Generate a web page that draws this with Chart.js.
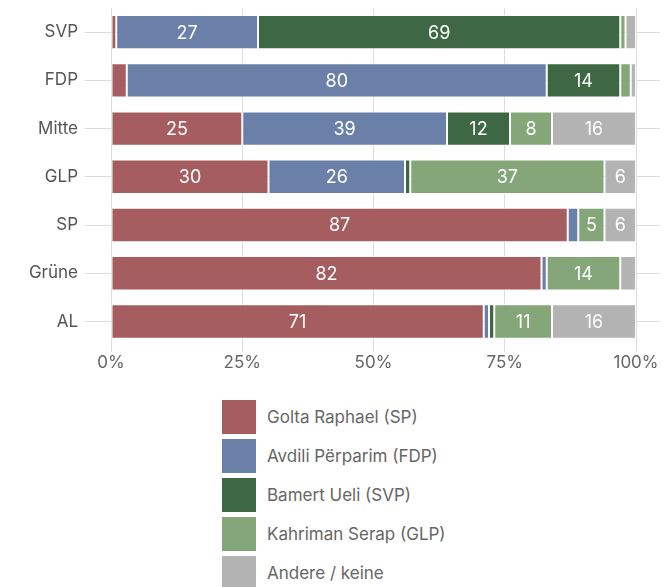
<!DOCTYPE html>
<html>
<head>
<meta charset="utf-8">
<script src="https://cdn.jsdelivr.net/npm/chart.js@4/dist/chart.umd.min.js"></script>
<style>
  body { margin: 0; background: #fff; font-family: Inter, "Noto Sans", sans-serif; }
  #wrap { position: relative; width: 665px; height: 374px; }
  #legend { position: absolute; left: 222px; top: 397px; }
  .item { display: flex; align-items: center; height: 39px; }
  .box { width: 34px; height: 34px; margin-right: 11px; }
  .txt { font-size: 17px; color: #666; }
</style>
</head>
<body>
<div id="wrap"><canvas id="chart"></canvas></div>
<div id="legend"></div>
<script>
const parteien = ['SVP', 'FDP', 'Mitte', 'GLP', 'SP', 'Grüne', 'AL'];
const kandidaten = ['Golta Raphael (SP)', 'Avdili Përparim (FDP)', 'Bamert Ueli (SVP)', 'Kahriman Serap (GLP)', 'Andere / keine'];
const farben = ['#a65d5f', '#6b80a8', '#3e6843', '#84a678', '#b3b3b3'];

const golta   = [1, 3, 25, 30, 87, 82, 71];
const avdili  = [27, 80, 39, 26, 2, 1, 1];
const bamert  = [69, 14, 12, 1, 0, 0, 1];
const kahrim  = [1, 2, 8, 37, 5, 14, 11];
const andere  = [2, 1, 16, 6, 6, 3, 16];
const reihen = [golta, avdili, bamert, kahrim, andere];

const xTicks = [0, 25, 50, 75, 100];

// zahlen in die balken schreiben
const werte = {
  id: 'werte',
  afterDatasetsDraw(chart) {
    const ctx = chart.ctx;
    ctx.save();
    ctx.fillStyle = '#fff';
    ctx.font = '18px Inter, "Noto Sans", sans-serif';
    ctx.textAlign = 'center';
    ctx.textBaseline = 'middle';
    chart.data.datasets.forEach((ds, i) => {
      chart.getDatasetMeta(i).data.forEach((bar, j) => {
        const v = ds.data[j];
        if (v < 5) return;
        const p = bar.getProps(['x', 'y', 'base'], true);
        ctx.fillText(String(v), (p.x + p.base) / 2, p.y + 1);
      });
    });
    ctx.restore();
  }
};

new Chart(document.getElementById('chart'), {
  type: 'bar',
  plugins: [werte],
  data: {
    labels: parteien,
    datasets: reihen.map((r, i) => ({
      label: kandidaten[i],
      data: r,
      backgroundColor: farben[i],
      borderColor: '#fff',
      borderWidth: 1,
      borderSkipped: false,
      barPercentage: 0.75,
      categoryPercentage: 0.95
    }))
  },
  options: {
    indexAxis: 'y',
    responsive: true,
    maintainAspectRatio: false,
    animation: false,
    layout: { padding: { top: 8, right: 0, left: 0, bottom: 0 } },
    plugins: { legend: { display: false }, tooltip: { enabled: false } },
    scales: {
      x: {
        stacked: true,
        min: 0, max: 100,
        afterBuildTicks: s => { s.ticks = xTicks.map(v => ({ value: v })); },
        ticks: {
          callback: v => v + '%',
          color: '#666',
          font: { size: 17, family: 'Inter, "Noto Sans", sans-serif' },
          padding: 1
        },
        grid: { color: '#dcdcdc', tickLength: 6 },
        border: { display: false }
      },
      y: {
        stacked: true,
        afterFit: s => { s.width = 111; s.paddingTop = 0; s.paddingBottom = 0; },
        ticks: {
          color: '#555',
          font: { size: 17, family: 'Inter, "Noto Sans", sans-serif' },
          padding: 7
        },
        grid: { offset: false, color: '#dcdcdc', tickLength: 26, drawOnChartArea: true },
        border: { display: false }
      },
      y2: {
        position: 'right',
        type: 'category',
        offset: true,
        afterFit: s => { s.width = 29; s.paddingTop = 0; s.paddingBottom = 0; },
        ticks: { display: false },
        grid: { offset: false, color: '#dcdcdc', tickLength: 24, drawOnChartArea: false },
        border: { display: false }
      }
    }
  }
});

const leg = document.getElementById('legend');
kandidaten.forEach((k, i) => {
  const d = document.createElement('div');
  d.className = 'item';
  d.innerHTML = '<div class="box" style="background:' + farben[i] + '"></div><span class="txt">' + k + '</span>';
  leg.appendChild(d);
});
</script>
</body>
</html>
